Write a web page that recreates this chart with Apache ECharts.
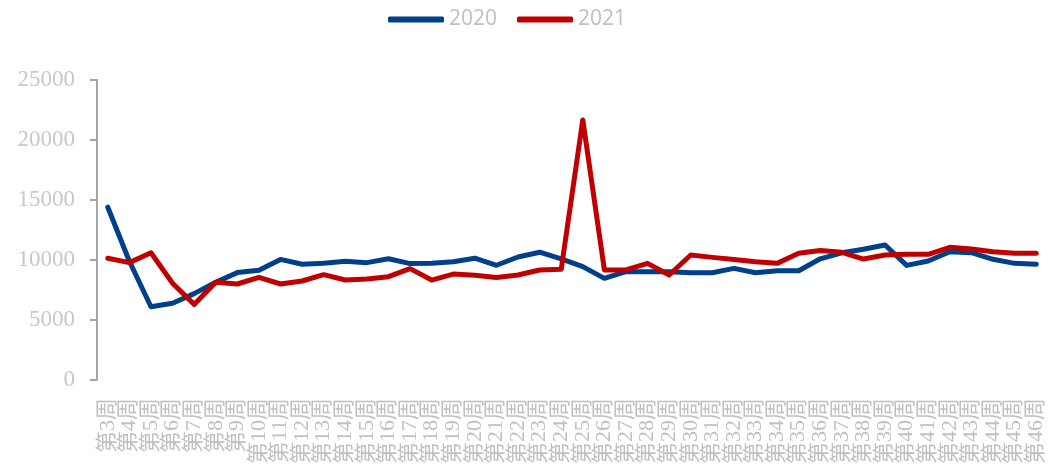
<!DOCTYPE html>
<html>
<head>
<meta charset="utf-8">
<script src="https://cdn.jsdelivr.net/npm/echarts@6/dist/echarts.min.js"></script>
<style>
  html, body { margin: 0; padding: 0; background: #fff; }
  #chart { width: 1059px; height: 471px; }
</style>
</head>
<body>
<div id="chart"></div>
<script>
// week labels 第3周 .. 第46周
var weeks = ['第3周','第4周','第5周','第6周','第7周','第8周','第9周','第10周','第11周','第12周',
  '第13周','第14周','第15周','第16周','第17周','第18周','第19周','第20周','第21周','第22周',
  '第23周','第24周','第25周','第26周','第27周','第28周','第29周','第30周','第31周','第32周',
  '第33周','第34周','第35周','第36周','第37周','第38周','第39周','第40周','第41周','第42周',
  '第43周','第44周','第45周','第46周']

var data2020 = [14400, 9900, 6100, 6400, 7200, 8150, 8950, 9140, 10050, 9650,
  9720, 9900, 9780, 10100, 9700, 9720, 9850, 10150, 9560, 10250,
  10650, 10100, 9450, 8470, 9030, 9030, 9030, 8940, 8940, 9300,
  8940, 9100, 9100, 10100, 10600, 10900, 11250, 9550, 9920, 10690,
  10610, 10060, 9720, 9640]

var data2021 = [10140, 9780, 10600, 8060, 6300, 8150, 8000, 8550, 8000, 8250,
  8780, 8330, 8420, 8610, 9280, 8330, 8830, 8720, 8550, 8750,
  9170, 9220, 21670, 9170, 9170, 9720, 8750, 10420, 10220, 10050,
  9860, 9720, 10560, 10800, 10640, 10080, 10420, 10470, 10470, 11060,
  10920, 10690, 10560, 10560]

var yTicks = { min: 0, max: 25000, interval: 5000 }

var chart = echarts.init(document.getElementById('chart'))

chart.setOption({
  animation: false,
  legend: {
    data: ['2020', '2021'],
    left: 383,
    top: 4,
    itemWidth: 56,
    itemHeight: 6,
    itemGap: 20,
    icon: 'roundRect',
    textStyle: {
      color: '#bfbfbf',
      fontSize: 21,
      fontFamily: 'Open Sans'
    }
  },
  grid: {
    left: 97,
    right: 12,
    top: 80,
    bottom: 91
  },
  xAxis: {
    type: 'category',
    data: weeks,
    boundaryGap: true,
    axisLine: { show: false },
    axisTick: { show: false },
    axisLabel: {
      rotate: 90,
      interval: 0,
      margin: 18,
      color: '#c0c0c0',
      fontSize: 22,
      fontFamily: 'Liberation Serif, Noto Sans CJK SC'
    }
  },
  yAxis: {
    type: 'value',
    min: yTicks.min,
    max: yTicks.max,
    interval: yTicks.interval,
    axisLine: { show: true, lineStyle: { color: '#a6a6a6', width: 2 } },
    axisTick: { show: true, length: 7, lineStyle: { color: '#a6a6a6', width: 2 } },
    splitLine: { show: false },
    axisLabel: {
      margin: 22,
      color: '#c8c8c8',
      fontSize: 23,
      fontFamily: 'Liberation Serif',
      formatter: function (v) { return String(v) }
    }
  },
  series: [{
    name: '2020',
    type: 'line',
    data: data2020,
    showSymbol: false,
    symbol: 'none',
    itemStyle: { color: '#003f8a' },
    lineStyle: { color: '#003f8a', width: 5, cap: 'round', join: 'round' }
  }, {
    name: '2021',
    type: 'line',
    data: data2021,
    showSymbol: false,
    symbol: 'none',
    itemStyle: { color: '#c00000' },
    lineStyle: { color: '#c00000', width: 5, cap: 'round', join: 'round' }
  }]
})
</script>
</body>
</html>
